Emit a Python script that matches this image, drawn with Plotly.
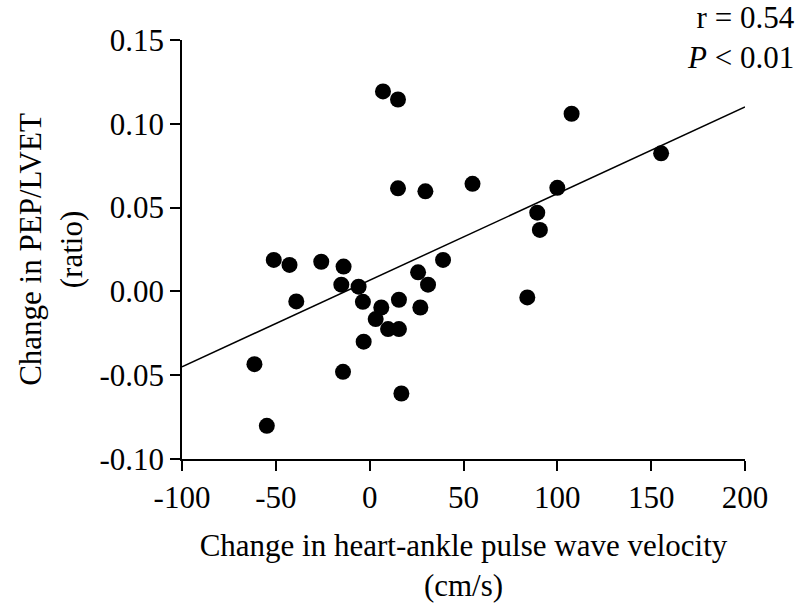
import plotly.graph_objects as go

# Data
haPWV_change = [-61.4, -54.8, -51.1, -42.7, -39.1, -25.8, -13.9, -15.1, -14.2, -5.9,
                -3.6, -3.2, 3.2, 6.2, 7.1, 9.8, 15.1, 15.1, 15.6, 15.6,
                16.9, 25.8, 27.0, 29.7, 31.1, 39.1, 54.8, 84.0, 89.3, 90.7,
                100.0, 107.6, 155.3]
pep_lvet_change = [-0.0434, -0.0802, 0.0188, 0.0158, -0.0060, 0.0177, 0.0148, 0.0040, -0.0480, 0.0028,
                   -0.0062, -0.0300, -0.0165, -0.0096, 0.1193, -0.0225, 0.1145, 0.0615, -0.0225, -0.0050,
                   -0.0609, 0.0114, -0.0096, 0.0597, 0.0040, 0.0188, 0.0642, -0.0036, 0.0470, 0.0367,
                   0.0618, 0.1060, 0.0824]
fit_x = [-100, 200]
fit_y = [-0.045, 0.110]

x_ticks = [-100, -50, 0, 50, 100, 150, 200]
x_ticktext = ["-100", "-50", "0", "50", "100", "150", "200"]
y_ticks = [-0.10, -0.05, 0.00, 0.05, 0.10, 0.15]
y_ticktext = ["-0.10", "-0.05", "0.00", "0.05", "0.10", "0.15"]

FONT = "Liberation Serif, Times New Roman, serif"
FS = 31

fig = go.Figure()
fig.add_trace(go.Scatter(x=fit_x, y=fit_y, mode="lines",
                         line=dict(color="black", width=1.5), hoverinfo="skip"))
fig.add_trace(go.Scatter(x=haPWV_change, y=pep_lvet_change, mode="markers",
                         marker=dict(color="black", size=16, line=dict(width=0))))

axis_common = dict(showline=True, linecolor="black", linewidth=1.5, ticks="outside",
                   ticklen=10, tickwidth=1.5, tickcolor="black", showgrid=False,
                   zeroline=False, tickfont=dict(family=FONT, size=FS, color="black"))

fig.update_layout(
    width=802, height=612,
    margin=dict(l=182, r=57, t=40, b=153),
    paper_bgcolor="white", plot_bgcolor="white",
    showlegend=False,
    font=dict(family=FONT, color="black"),
    xaxis=dict(range=[-100, 200], tickvals=x_ticks, ticktext=x_ticktext,
               title=dict(text="Change in heart-ankle pulse wave velocity<br>(cm/s)",
                          font=dict(family=FONT, size=FS, color="black"), standoff=20),
               **axis_common),
    yaxis=dict(range=[-0.10, 0.15], tickvals=y_ticks, ticktext=y_ticktext,
               title=dict(text="Change in PEP/LVET<br>(ratio)",
                          font=dict(family=FONT, size=FS, color="black"), standoff=8),
               **axis_common),
    annotations=[dict(text="r = 0.54<br><i>P</i> &lt; 0.01", xref="paper", yref="paper",
                      x=1.0, y=1.0, xanchor="right", yanchor="bottom", xshift=52, yshift=-37,
                      align="right", showarrow=False,
                      font=dict(family=FONT, size=FS, color="black"))],
)

fig.write_html("out.html")
